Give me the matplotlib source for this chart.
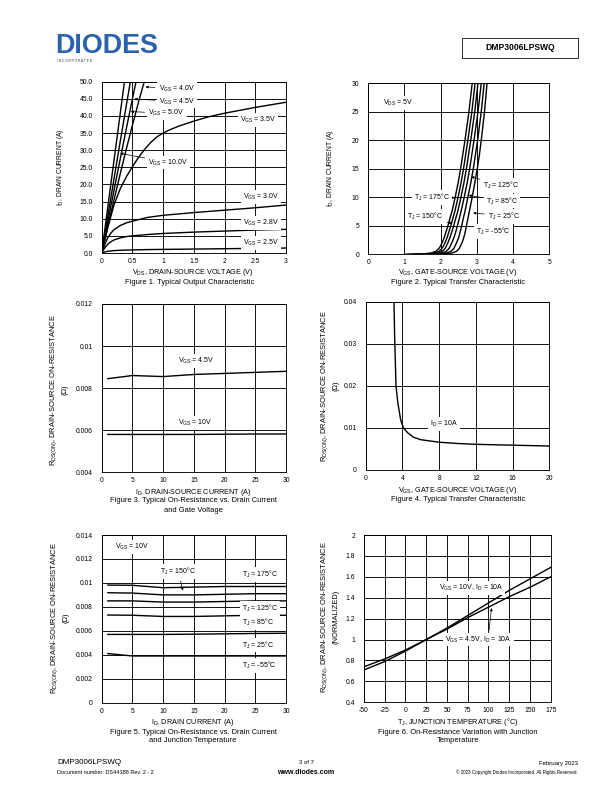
import matplotlib
matplotlib.use("Agg")
import matplotlib.pyplot as plt
from matplotlib.patches import Rectangle

plt.rcParams['font.family'] = ['Liberation Sans', 'DejaVu Sans']
plt.rcParams['mathtext.fontset'] = 'custom'
plt.rcParams['mathtext.rm'] = 'Liberation Sans'
plt.rcParams['mathtext.it'] = 'Liberation Sans:italic'
plt.rcParams['axes.unicode_minus'] = False

# Figure 1 - output characteristic
f1_vds_lin = {
    "10.0V": ([0, 0.1, 0.2, 0.3, 0.4], [0, 13.5, 27, 40.5, 54]),
    "5.0V": ([0, 0.1, 0.2, 0.3, 0.4, 0.5], [0, 10.8, 21.6, 32.4, 43, 53.5]),
    "4.5V": ([0, 0.1, 0.2, 0.3, 0.4, 0.5, 0.6], [0, 9.2, 18.3, 27.3, 36.2, 45, 53.5]),
    "4.0V": ([0, 0.1, 0.2, 0.3, 0.4, 0.5, 0.6, 0.7, 0.8], [0, 7.8, 15.5, 23, 30.3, 37.3, 44.1, 50.5, 56.6]),
}
f1_vds_35 = [0, 0.1, 0.2, 0.3, 0.4, 0.5, 0.6, 0.7, 0.8, 0.9, 1.0, 1.1, 1.25, 1.5, 1.75, 2.0, 2.5, 3.0]
f1_id_35 = [0, 7.5, 14, 18.7, 22.2, 25.2, 27.9, 30.3, 32.3, 33.9, 35.0, 35.9, 37.0, 38.5, 39.8, 40.8, 42.5, 44]
f1_vds = [0, 0.05, 0.1, 0.15, 0.2, 0.3, 0.4, 0.5, 0.75, 1, 1.5, 2, 2.5, 3]
f1_id_30 = [0, 2.5, 4.5, 5.8, 6.8, 8.0, 8.8, 9.3, 10.4, 11.0, 11.8, 12.5, 13.2, 14.0]
f1_id_28 = [0, 1.5, 2.6, 3.3, 3.8, 4.4, 4.8, 5.0, 5.4, 5.7, 6.1, 6.4, 6.7, 6.9]
f1_id_25 = [0, 0.3, 0.5, 0.6, 0.7, 0.8, 0.85, 0.9, 1.0, 1.05, 1.15, 1.25, 1.35, 1.45]

# Figure 2 - transfer characteristic (VGS at given ID)
f2_id = [0, 0.05, 0.2, 0.5, 1, 1.5, 2.2, 3, 4, 5, 6.2, 7.5, 10, 12.5, 15, 17.5, 20, 25, 30, 32]
f2_vgs = {
    "175": [1.0, 1.45, 1.72, 1.86, 1.95, 2.0, 2.05, 2.1, 2.15, 2.2, 2.25, 2.31, 2.4, 2.48, 2.55, 2.61, 2.67, 2.78, 2.87, 2.9],
    "150": [1.1, 1.55, 1.81, 1.95, 2.03, 2.08, 2.13, 2.18, 2.23, 2.28, 2.33, 2.39, 2.48, 2.56, 2.63, 2.69, 2.75, 2.86, 2.95, 2.98],
    "125": [1.2, 1.65, 1.9, 2.04, 2.12, 2.16, 2.21, 2.26, 2.31, 2.36, 2.41, 2.47, 2.56, 2.64, 2.71, 2.77, 2.83, 2.94, 3.03, 3.06],
    "85": [1.35, 1.78, 2.02, 2.15, 2.23, 2.27, 2.32, 2.37, 2.42, 2.46, 2.51, 2.56, 2.65, 2.73, 2.8, 2.86, 2.92, 3.03, 3.12, 3.15],
    "25": [1.5, 1.92, 2.15, 2.28, 2.36, 2.4, 2.45, 2.5, 2.54, 2.58, 2.62, 2.67, 2.75, 2.83, 2.9, 2.96, 3.02, 3.12, 3.2, 3.23],
    "-55": [1.7, 2.08, 2.3, 2.43, 2.51, 2.55, 2.6, 2.64, 2.68, 2.71, 2.75, 2.79, 2.87, 2.94, 3.01, 3.07, 3.12, 3.21, 3.28, 3.31],
}

# Figure 3 - RDS(on) vs ID, by VGS
f3_id = [1, 5, 10, 15, 20, 25, 30]
f3_r45 = [0.00845, 0.0086, 0.00855, 0.00865, 0.0087, 0.00875, 0.0088]
f3_r10 = [0.0058, 0.0058, 0.0058, 0.0058, 0.00581, 0.00582, 0.00582]

# Figure 4 - RDS(on) vs VGS at ID = 10A
f4_vgs = [3.08, 3.15, 3.2, 3.3, 3.5, 3.8, 4.1, 4.6, 5.2, 6, 8, 10, 12, 16, 20]
f4_r = [0.04, 0.032, 0.028, 0.02, 0.016, 0.012, 0.01, 0.0088, 0.0078, 0.0072,
        0.0066, 0.0063, 0.0061, 0.0059, 0.0057]

# Figure 5 - RDS(on) vs ID, by junction temperature
f5_id = [1, 5, 10, 15, 20, 25, 30]
f5_r = {
    "175": [0.00982, 0.0098, 0.0096, 0.00965, 0.0097, 0.0097, 0.0097],
    "150": [0.00918, 0.00915, 0.009, 0.009, 0.00905, 0.0091, 0.0091],
    "125": [0.0085, 0.0085, 0.0084, 0.0084, 0.00845, 0.0085, 0.0085],
    "85": [0.00732, 0.0073, 0.0072, 0.0072, 0.00725, 0.0073, 0.0073],
    "25": [0.0057, 0.0057, 0.0057, 0.00572, 0.00575, 0.00578, 0.0058],
    "-55": [0.0041, 0.0039, 0.0039, 0.0039, 0.0039, 0.0039, 0.0039],
}

# Figure 6 - normalized RDS(on) vs TJ
f6_tj = [-50, -25, 0, 25, 50, 75, 100, 125, 150, 175]
f6_r10 = [0.71, 0.79, 0.89, 1.0, 1.11, 1.23, 1.35, 1.47, 1.58, 1.69]
f6_r45 = [0.74, 0.815, 0.9, 1.0, 1.1, 1.21, 1.31, 1.41, 1.5, 1.6]

W, H = 612, 792
fig = plt.figure(figsize=(W / 72, H / 72), dpi=72)

TICK = 6.8
AX = 7.3
CAP = 7.5
ANN = 7
RL = 7.5


def ftext(x, y, s, **kw):
    kw.setdefault('fontsize', AX)
    return fig.text(x / W, 1 - y / H, s, **kw)


def make_ax(l, t, r, b):
    ax = fig.add_axes([l / W, 1 - b / H, (r - l) / W, (b - t) / H])
    ax.grid(True, color='black', lw=0.9)
    ax.set_axisbelow(True)
    for s in ax.spines.values():
        s.set_linewidth(0.9)
    ax.tick_params(length=0, labelsize=TICK)
    ax.tick_params(axis='y', pad=9)
    ax.tick_params(axis='x', pad=5)
    return ax


LW = 1.4
box = dict(facecolor='white', edgecolor='none', pad=1.8)
arr = dict(arrowstyle='-|>', color='black', lw=0.7, mutation_scale=5)


def vgs(v):
    return r'V$_{\rm GS}$ = ' + v


def tj(t):
    return r'T$_{\rm J}$ = ' + t + '°C'


def lab(ax, x, y, s, **kw):
    ax.text(x, y, s, fontsize=ANN, va='center', bbox=box, **kw)


def alab(ax, s, xy, xytext, **kw):
    kw.setdefault('arrowprops', arr)
    ax.annotate(s, xy=xy, xytext=xytext, fontsize=ANN, va='center', bbox=box, **kw)


# ---- Figure 1
ax1 = make_ax(101.7, 81.7, 286, 253)
for k, (x, y) in f1_vds_lin.items():
    ax1.plot(x, y, color='black', lw=LW)
ax1.plot(f1_vds_35, f1_id_35, color='black', lw=LW)
ax1.plot(f1_vds, f1_id_30, color='black', lw=LW)
ax1.plot(f1_vds, f1_id_28, color='black', lw=LW)
ax1.plot(f1_vds, f1_id_25, color='black', lw=LW)
ax1.set_xlim(0, 3)
ax1.set_ylim(0, 50)
ax1.set_xticks([0, 0.5, 1, 1.5, 2, 2.5, 3])
ax1.set_xticklabels(['0', '0.5', '1', '1.5', '2', '2.5', '3'])
ax1.set_yticks(range(0, 51, 5))
ax1.set_yticklabels(['%.1f' % v for v in range(0, 51, 5)])
alab(ax1, vgs('4.0V'), (0.68, 48.5), (0.93, 48))
alab(ax1, vgs('4.5V'), (0.5, 45), (0.93, 44.2))
alab(ax1, vgs('5.0V'), (0.44, 41.3), (0.76, 40.8))
alab(ax1, vgs('10.0V'), (0.27, 29.2), (0.76, 26.4))
lab(ax1, 2.25, 38.8, vgs('3.5V'))
lab(ax1, 2.3, 16.4, vgs('3.0V'))
lab(ax1, 2.3, 8.7, vgs('2.8V'))
lab(ax1, 2.3, 3.0, vgs('2.5V'))
ftext(60, 167, r'I$_{\rm D}$, DRAIN CURRENT (A)', fontsize=6.8, rotation=90, ha='center', va='center')
ftext(193, 273, r'V$_{\rm DS}$, DRAIN-SOURCE VOLTAGE (V)', ha='center', va='center')
ftext(190, 282, 'Figure 1. Typical Output Characteristic', fontsize=CAP, ha='center', va='center')

# ---- Figure 2
ax2 = make_ax(368.3, 83.3, 549.3, 254.3)
for k, v in f2_vgs.items():
    ax2.plot(v, f2_id, color='black', lw=LW)
ax2.set_xlim(0, 5)
ax2.set_ylim(0, 30)
ax2.set_xticks(range(0, 6))
ax2.set_yticks(range(0, 31, 5))
lab(ax2, 0.4, 26.5, r'V$_{\rm DS}$ = 5V')
alab(ax2, tj('125'), (2.79, 13.7), (3.18, 12.0))
alab(ax2, tj('85'), (2.72, 10.4), (3.25, 9.35))
alab(ax2, tj('25'), (2.84, 7.3), (3.31, 6.7))
alab(ax2, tj('175'), (2.44, 9.9), (2.26, 10.0), ha='right')
alab(ax2, tj('150'), (2.38, 5.3), (2.07, 6.7), ha='right')
lab(ax2, 2.98, 4.0, tj('-55'))
ftext(330, 168, r'I$_{\rm D}$, DRAIN CURRENT (A)', fontsize=6.8, rotation=90, ha='center', va='center')
ftext(458, 273, r'V$_{\rm GS}$, GATE-SOURCE VOLTAGE (V)', ha='center', va='center')
ftext(458, 282, 'Figure 2. Typical Transfer Characteristic', fontsize=CAP, ha='center', va='center')

# ---- Figure 3
ax3 = make_ax(101.7, 304, 286, 472.3)
ax3.plot(f3_id, f3_r45, color='black', lw=LW)
ax3.plot(f3_id, f3_r10, color='black', lw=LW)
ax3.set_xlim(0, 30)
ax3.set_ylim(0.004, 0.012)
ax3.set_xticks(range(0, 31, 5))
ax3.set_yticks([0.004, 0.006, 0.008, 0.01, 0.012])
ax3.set_yticklabels(['0.004', '0.006', '0.008', '0.01', '0.012'])
lab(ax3, 12.5, 0.0093, vgs('4.5V'))
lab(ax3, 12.5, 0.00633, vgs('10V'))
ftext(54, 390, r'R$_{\rm DS(ON)}$, DRAIN-SOURCE ON-RESISTANCE', fontsize=RL, rotation=90,
      ha='center', va='center')
ftext(65, 390, '(Ω)', fontsize=RL, rotation=90, ha='center', va='center')
ftext(193, 492, r'I$_{\rm D}$, DRAIN-SOURCE CURRENT (A)', ha='center', va='center')
ftext(193, 501, 'Figure 3. Typical On-Resistance vs. Drain Current', fontsize=CAP, ha='center', va='center')
ftext(193, 510, 'and Gate Voltage', fontsize=CAP, ha='center', va='center')

# ---- Figure 4
ax4 = make_ax(365.7, 301.7, 549.3, 470)
ax4.plot(f4_vgs, f4_r, color='black', lw=LW)
ax4.set_xlim(0, 20)
ax4.set_ylim(0, 0.04)
ax4.set_xticks(range(0, 21, 4))
ax4.set_yticks([0, 0.01, 0.02, 0.03, 0.04])
ax4.set_yticklabels(['0', '0.01', '0.02', '0.03', '0.04'])
lab(ax4, 7.0, 0.0109, r'I$_{\rm D}$ = 10A')
ftext(325, 386, r'R$_{\rm DS(ON)}$, DRAIN-SOURCE ON-RESISTANCE', fontsize=RL, rotation=90,
      ha='center', va='center')
ftext(336, 386, '(Ω)', fontsize=RL, rotation=90, ha='center', va='center')
ftext(458, 491, r'V$_{\rm GS}$, GATE-SOURCE VOLTAGE (V)', ha='center', va='center')
ftext(458, 500, 'Figure 4. Typical Transfer Characteristic', fontsize=CAP, ha='center', va='center')

# ---- Figure 5
ax5 = make_ax(101.7, 535, 286, 702.7)
for k, v in f5_r.items():
    ax5.plot(f5_id, v, color='black', lw=LW)
ax5.set_xlim(0, 30)
ax5.set_ylim(0, 0.014)
ax5.set_xticks(range(0, 31, 5))
ax5.set_yticks([0, 0.002, 0.004, 0.006, 0.008, 0.01, 0.012, 0.014])
ax5.set_yticklabels(['0', '0.002', '0.004', '0.006', '0.008', '0.01', '0.012', '0.014'])
lab(ax5, 2.2, 0.013, r'V$_{\rm GS}$ = 10V')
alab(ax5, tj('150'), (13.3, 0.0092), (9.5, 0.01094))
lab(ax5, 22.8, 0.01072, tj('175'))
lab(ax5, 22.8, 0.00788, tj('125'))
lab(ax5, 22.8, 0.00668, tj('85'))
lab(ax5, 22.8, 0.00482, tj('25'))
lab(ax5, 22.8, 0.00309, tj('-55'))
ftext(55, 618, r'R$_{\rm DS(ON)}$, DRAIN-SOURCE ON-RESISTANCE', fontsize=RL, rotation=90,
      ha='center', va='center')
ftext(66, 618, '(Ω)', fontsize=RL, rotation=90, ha='center', va='center')
ftext(193, 723, r'I$_{\rm D}$, DRAIN CURRENT (A)', ha='center', va='center')
ftext(193, 732, 'Figure 5. Typical On-Resistance vs. Drain Current', fontsize=CAP, ha='center', va='center')
ftext(193, 741, 'and Junction Temperature', fontsize=CAP, ha='center', va='center')

# ---- Figure 6
ax6 = make_ax(364, 535, 550.7, 702.3)
ax6.plot(f6_tj, f6_r10, color='black', lw=LW)
ax6.plot(f6_tj, f6_r45, color='black', lw=LW)
ax6.set_xlim(-50, 175)
ax6.set_ylim(0.4, 2)
ax6.set_xticks(range(-50, 176, 25))
ax6.set_yticks([0.4, 0.6, 0.8, 1, 1.2, 1.4, 1.6, 1.8, 2])
ax6.set_yticklabels(['0.4', '0.6', '0.8', '1', '1.2', '1.4', '1.6', '1.8', '2'])
alab(ax6, r'V$_{\rm GS}$ = 10V, I$_{\rm D}$ = 10A', (113, 1.435), (40, 1.49),
     arrowprops=dict(arr, relpos=(0.8, 0)))
alab(ax6, r'V$_{\rm GS}$ = 4.5V, I$_{\rm D}$ = 10A', (104, 1.32), (48, 1.0),
     arrowprops=dict(arr, relpos=(0.65, 1)))
ftext(325, 617, r'R$_{\rm DS(ON)}$, DRAIN-SOURCE ON-RESISTANCE', fontsize=RL, rotation=90,
      ha='center', va='center')
ftext(336, 617, '(NORMALIZED)', fontsize=RL, rotation=90, ha='center', va='center')
ftext(458, 722, r'T$_{\rm J}$, JUNCTION TEMPERATURE (°C)', ha='center', va='center')
ftext(458, 732, 'Figure 6. On-Resistance Variation with Junction', fontsize=CAP, ha='center', va='center')
ftext(458, 741, 'Temperature', fontsize=CAP, ha='center', va='center')

# ---- header
ftext(55, 46, 'DIODES', fontsize=27, fontweight='bold', color='#2a62ab',
      ha='left', va='center')
ftext(57, 60.5, 'I N C O R P O R A T E D', fontsize=3.2, color='#333333', ha='left', va='center')
fig.patches.append(Rectangle((462 / W, 1 - 58 / H), 116 / W, 20 / H, transform=fig.transFigure,
                             facecolor='white', edgecolor='black', lw=0.8))
ftext(520, 48, 'DMP3006LPSWQ', fontsize=8.5, fontweight='bold', ha='center', va='center')

# ---- footer
ftext(57, 763, 'DMP3006LPSWQ', fontsize=8, ha='left', va='center')
ftext(57, 772, 'Document number: DS44388 Rev. 2 - 2', fontsize=5.5, ha='left', va='center')
ftext(306, 763, '3 of 7', fontsize=6, ha='center', va='center')
ftext(306, 772, 'www.diodes.com', fontsize=7, fontweight='bold', ha='center', va='center')
ftext(578, 763, 'February 2023', fontsize=6, ha='right', va='center')
ftext(578, 772, '© 2023 Copyright Diodes Incorporated. All Rights Reserved.', fontsize=4.5,
      ha='right', va='center')

fig.savefig('out.png', dpi=72)
